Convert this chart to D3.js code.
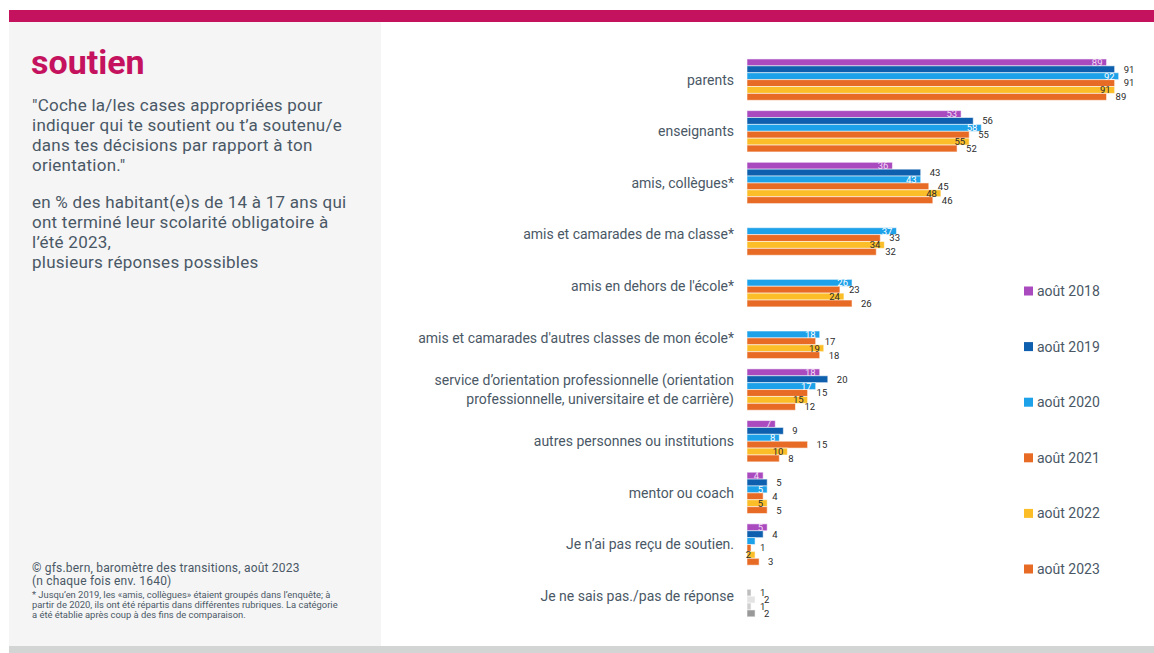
<!DOCTYPE html>
<html>
<head>
<meta charset="utf-8">
<script src="https://cdn.jsdelivr.net/npm/d3@7"></script>
<style>
  html, body { margin: 0; padding: 0; background: #fff; }
  svg { display: block; font-family: Roboto, "Noto Sans", sans-serif; }
</style>
</head>
<body>
<svg id="chart" width="1154" height="653"></svg>
<script>
// Answer categories (top to bottom)
const categories = [
  "parents",
  "enseignants",
  "amis, collègues*",
  "amis et camarades de ma classe*",
  "amis en dehors de l'école*",
  "amis et camarades d'autres classes de mon école*",
  "service d\u2019orientation professionnelle (orientation|professionnelle, universitaire et de carrière)",
  "autres personnes ou institutions",
  "mentor ou coach",
  "Je n\u2019ai pas reçu de soutien.",
  "Je ne sais pas./pas de réponse"
];

// Survey waves
const series = ["août 2018", "août 2019", "août 2020", "août 2021", "août 2022", "août 2023"];

// Share in % per wave, one array per wave (null = not asked that year)
const v2018 = [89, 53, 36, null, null, null, 18, 7, 4, 5, null];
const v2019 = [91, 56, 43, null, null, null, 20, 9, 5, 4, null];
const v2020 = [92, 58, 43, 37, 26, 18, 17, 8, 5, 2, 1];
const v2021 = [91, 55, 45, 33, 23, 17, 15, 15, 4, 1, 2];
const v2022 = [91, 55, 48, 34, 24, 19, 15, 10, 5, 2, 1];
const v2023 = [89, 52, 46, 32, 26, 18, 12, 8, 5, 3, 2];
const values = [v2018, v2019, v2020, v2021, v2022, v2023];

// Bars drawn without a value label
const unlabelled = [["Je n\u2019ai pas reçu de soutien.", "août 2020"]];

const colors = ["#a94bbf", "#0e5fad", "#1da1e9", "#e86b25", "#fbbe29", "#e86b25"];
const greys  = ["#bdbdbd", "#bdbdbd", "#bdbdbd", "#e3e3e3", "#cfcfcf", "#999999"];
const lastCat = categories[categories.length - 1];

// label placement per wave: inside the bar end or just beyond it
const inside = [true, false, true, false, true, false];
const insideColor = ["#f4dcf6", null, "#ffffff", null, "#2b2b2b", null];

const svg = d3.select("#chart");
const textCol = "#4a5866";

// page frame
svg.append("rect").attr("x", 9).attr("y", 10).attr("width", 1145).attr("height", 12).attr("fill", "#c4125e");
svg.append("rect").attr("x", 9).attr("y", 22).attr("width", 372).attr("height", 624).attr("fill", "#f5f5f5");
svg.append("rect").attr("x", 9).attr("y", 646).attr("width", 1145).attr("height", 7).attr("fill", "#d3d4d4");

// left panel text
svg.append("text").attr("x", 31).attr("y", 74)
  .attr("font-size", 34).attr("font-weight", 700).attr("fill", "#c4125e").text("soutien");

const intro = [
  "\"Coche la/les cases appropriées pour",
  "indiquer qui te soutient ou t\u2019a soutenu/e",
  "dans tes décisions par rapport à ton",
  "orientation.\""
];
const base = [
  "en % des habitant(e)s de 14 à 17 ans qui",
  "ont terminé leur scolarité obligatoire à",
  "l\u2019été 2023,",
  "plusieurs réponses possibles"
];
svg.append("g").selectAll("text").data(intro).join("text")
  .attr("x", 32).attr("y", (d, i) => 111 + i * 20)
  .attr("font-size", 17).attr("letter-spacing", 0.25).attr("fill", textCol).text(d => d);
svg.append("g").selectAll("text").data(base).join("text")
  .attr("x", 32).attr("y", (d, i) => 208 + i * 20)
  .attr("font-size", 17).attr("letter-spacing", 0.25).attr("fill", textCol).text(d => d);

svg.append("text").attr("x", 32).attr("y", 572).attr("font-size", 12).attr("letter-spacing", 0.2).attr("fill", textCol)
  .text("\u00a9  gfs.bern, baromètre des transitions, août 2023");
svg.append("text").attr("x", 32).attr("y", 585).attr("font-size", 12).attr("letter-spacing", 0.2).attr("fill", textCol)
  .text("(n chaque fois env. 1640)");
const notes = [
  "* Jusqu\u2019en 2019,  les «amis, collègues»  étaient groupés dans l\u2019enquête; à",
  "partir de 2020, ils ont été répartis dans différentes rubriques. La catégorie",
  "a été établie après coup à des fins de comparaison."
];
svg.append("g").selectAll("text").data(notes).join("text")
  .attr("x", 32).attr("y", (d, i) => 598 + i * 10)
  .attr("font-size", 9.4).attr("fill", textCol).text(d => d);

// scales
const x = d3.scaleLinear().domain([0, 100]).range([747, 747 + 404]);
const y = d3.scaleBand().domain(categories).range([53.8, 622]).paddingInner(0.2).paddingOuter(0.1);
const yIn = d3.scaleBand().domain(series).range([0, y.bandwidth()]);

// category labels
const catG = svg.append("g");
categories.forEach(c => {
  const lines = c.split("|");
  const cy = y(c) + y.bandwidth() / 2;
  const lh = 19;
  lines.forEach((ln, i) => {
    catG.append("text")
      .attr("x", 734)
      .attr("y", cy + (i - (lines.length - 1) / 2) * lh)
      .attr("dy", "0.35em")
      .attr("text-anchor", "end")
      .attr("font-size", 14)
      .attr("fill", textCol)
      .text(ln);
  });
});

// flatten data
const rows = [];
categories.forEach((c, ci) => {
  series.forEach((s, si) => {
    const v = values[si][ci];
    if (v == null) return;
    rows.push({ c, s, si, v, grey: c === lastCat,
      hide: unlabelled.some(u => u[0] === c && u[1] === s) });
  });
});

const bars = svg.append("g");
bars.selectAll("rect").data(rows).join("rect")
  .attr("x", x(0))
  .attr("y", d => y(d.c) + yIn(d.s))
  .attr("width", d => Math.max(x(d.v) - x(0), 4))
  .attr("height", yIn.bandwidth())
  .attr("fill", d => d.grey ? greys[d.si] : colors[d.si])
  .attr("stroke", "#ffffff")
  .attr("stroke-opacity", 0.55)
  .attr("stroke-width", 1);

// value labels
const lab = svg.append("g").attr("font-size", 9.5);
lab.selectAll("text").data(rows.filter(d => !d.hide)).join("text")
  .attr("x", d => {
    const end = x(0) + Math.max(x(d.v) - x(0), 4);
    return (inside[d.si] && !d.grey) ? end - 4 : end + 9;
  })
  .attr("y", d => y(d.c) + yIn(d.s) + yIn.bandwidth() / 2)
  .attr("dy", "0.36em")
  .attr("text-anchor", d => (inside[d.si] && !d.grey) ? "end" : "start")
  .attr("fill", d => (inside[d.si] && !d.grey) ? insideColor[d.si] : "#2b2b2b")
  .text(d => d.v);

// legend
const leg = svg.append("g").selectAll("g").data(series).join("g")
  .attr("transform", (d, i) => `translate(1024, ${291 + i * 55.6})`);
leg.append("rect").attr("x", 0).attr("y", -4.5).attr("width", 9).attr("height", 9)
  .attr("fill", (d, i) => colors[i]);
leg.append("text").attr("x", 13).attr("dy", "0.35em").attr("font-size", 14)
  .attr("fill", textCol).text(d => d);
</script>
</body>
</html>
